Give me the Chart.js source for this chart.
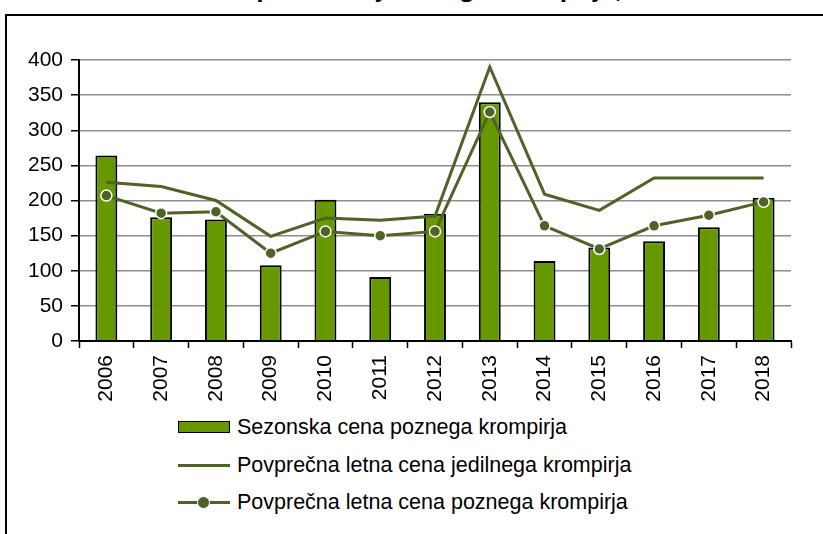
<!DOCTYPE html>
<html>
<head>
<meta charset="utf-8">
<script src="https://cdn.jsdelivr.net/npm/chart.js@4.4.1/dist/chart.umd.min.js"></script>
<style>
    html, body { margin: 0; padding: 0; background: #fff; overflow: hidden; }
    body { width: 823px; height: 534px; position: relative; font-family: Arial, "Liberation Sans", sans-serif; }
    #title {
        position: absolute; left: 192px; top: -25px; white-space: nowrap;
        font: italic bold 26px Arial, "Liberation Sans", sans-serif; line-height: 26px; color: #000;
    }
    #frame {
        position: absolute; left: 5px; top: 14px; width: 900px; height: 600px;
        border: 2px solid #000; box-sizing: border-box;
    }
    #wrap { position: absolute; left: 0; top: 0; width: 823px; height: 412px; }
    #legend { position: absolute; left: 178px; top: 412px; }
    .item { position: relative; height: 37.5px; line-height: 30px; font-size: 21.5px; color: #000; padding-left: 59px; white-space: nowrap; }
    .sym { position: absolute; left: 0; width: 52px; }
</style>
</head>
<body>
<div id="title">Odkupne cene jedilnega krompirja, EUR/t</div>
<div id="frame"></div>
<div id="wrap"><canvas id="c"></canvas></div>
<div id="legend"></div>
<script>
// podatki (EUR/t)
const years = ['2006', '2007', '2008', '2009', '2010', '2011', '2012', '2013', '2014', '2015', '2016', '2017', '2018'];
const sezonskaPozni = [264, 176, 173, 108, 201, 91, 181, 340, 114, 133, 142, 162, 204];
const letnaJedilni = [226, 220, 200, 149, 175, 172, 178, 390, 209, 186, 232, 232, 232];
const letnaPozni = [207, 182, 184, 125, 156, 150, 156, 326, 164, 131, 164, 179, 198];

const BAR_GREEN = '#669900';
const LINE_GREEN = '#4f6228';
const GRID_GREY = '#8e8e8e';
const FONT = 'Arial, "Liberation Sans", sans-serif';

const chart = new Chart(document.getElementById('c').getContext('2d'), {
    type: 'bar',
    data: {
        labels: years,
        datasets: [
            {
                type: 'bar',
                label: 'Sezonska cena poznega krompirja',
                data: sezonskaPozni,
                backgroundColor: BAR_GREEN,
                borderColor: '#000',
                borderWidth: 2,
                categoryPercentage: 1,
                barPercentage: 0.4,
                order: 3
            },
            {
                type: 'line',
                label: 'Povprečna letna cena jedilnega krompirja',
                data: letnaJedilni,
                borderColor: LINE_GREEN,
                borderWidth: 3,
                tension: 0,
                pointRadius: 0,
                fill: false,
                order: 2
            },
            {
                type: 'line',
                label: 'Povprečna letna cena poznega krompirja',
                data: letnaPozni,
                borderColor: LINE_GREEN,
                borderWidth: 3,
                tension: 0,
                pointRadius: 5.5,
                pointBackgroundColor: LINE_GREEN,
                pointBorderColor: '#fff',
                pointBorderWidth: 1.5,
                fill: false,
                order: 1
            }
        ]
    },
    options: {
        responsive: true,
        maintainAspectRatio: false,
        animation: false,
        layout: { padding: { top: 60, right: 32, left: 0, bottom: 0 } },
        plugins: {
            legend: { display: false },
            tooltip: { enabled: false },
            title: { display: false }
        },
        scales: {
            y: {
                min: 0,
                max: 400,
                ticks: {
                    stepSize: 50,
                    color: '#000',
                    padding: 8,
                    font: { family: FONT, size: 21 }
                },
                grid: {
                    color: GRID_GREY,
                    lineWidth: 1.5,
                    tickColor: '#000',
                    tickLength: 8
                },
                border: { color: '#000', width: 2 },
                afterFit: (scale) => { scale.width = 79; }
            },
            x: {
                ticks: {
                    color: '#000',
                    minRotation: 90,
                    maxRotation: 90,
                    padding: 7,
                    font: { family: FONT, size: 21 }
                },
                grid: {
                    offset: true,
                    drawOnChartArea: false,
                    tickColor: '#000',
                    tickLength: 7,
                    tickWidth: 1.5
                },
                border: { color: '#000', width: 2 },
                afterFit: (scale) => { scale.height = 71; }
            }
        }
    }
});

// legenda (ena postavka na vrstico, kot v izvirniku)
const legend = document.getElementById('legend');
chart.data.datasets.forEach((ds, i) => {
    const item = document.createElement('div');
    item.className = 'item';
    let sym;
    if (i === 0) {
        sym = '<span class="sym" style="top:9px;height:12px;background:' + BAR_GREEN + ';border:1.5px solid #000;box-sizing:border-box;"></span>';
    } else if (i === 1) {
        sym = '<span class="sym" style="top:14px;height:3px;background:' + LINE_GREEN + ';"></span>';
    } else {
        sym = '<span class="sym" style="top:14px;height:3px;background:' + LINE_GREEN + ';"></span>' +
              '<span style="position:absolute;left:19px;top:8.5px;width:11px;height:11px;border-radius:50%;background:' + LINE_GREEN + ';border:1.5px solid #fff;"></span>';
    }
    item.innerHTML = sym + ds.label;
    legend.appendChild(item);
});
</script>
</body>
</html>
